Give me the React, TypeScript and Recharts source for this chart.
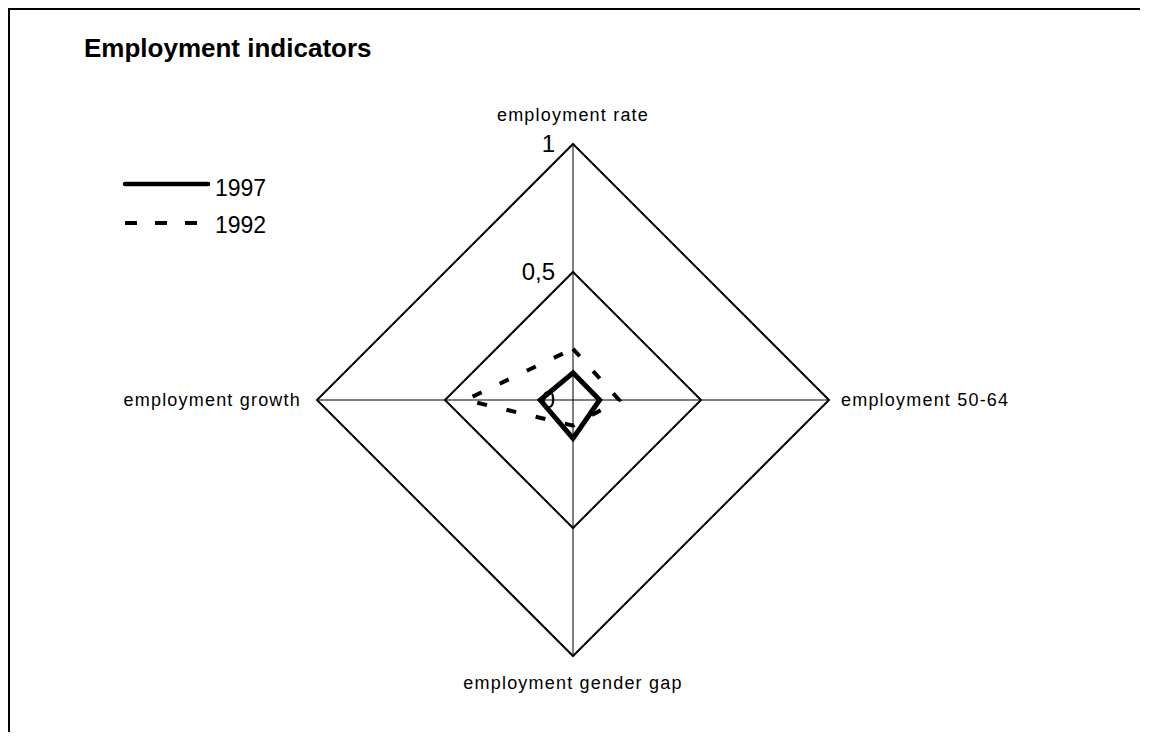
import { RadarChart, Radar, PolarGrid, PolarAngleAxis, PolarRadiusAxis, Legend } from "recharts"

const indicators = ["employment rate", "employment 50-64", "employment gender gap", "employment growth"]
const values1997 = [0.106, 0.104, 0.15, 0.128]
const values1992 = [0.2, 0.18, 0.1, 0.42]
const radiusTicks = [0, 0.5, 1]

const data = indicators.map((name, i) => ({
  indicator: name,
  y1997: values1997[i],
  y1992: values1992[i],
}))

const FONT = "'Liberation Sans', Arial, Helvetica, sans-serif"

// label offsets per axis (top, right, bottom, left)
const LABEL_OFFSETS: Array<[number, number]> = [
  [0, -15],
  [4, 6],
  [0, 25],
  [-8, 6],
]

function AngleTick(props: any) {
  const { x, y, payload, textAnchor, index } = props
  const [dx, dy] = LABEL_OFFSETS[index] ?? [0, 0]
  return (
    <text
      x={x + dx}
      y={y + dy}
      textAnchor={textAnchor}
      fontFamily={FONT}
      fontSize={18}
      letterSpacing={1.2}
      fill="#000"
    >
      {payload.value}
    </text>
  )
}

function RadiusTick(props: any) {
  const { x, y, payload } = props
  return (
    <text x={x - 18} y={y + 8} textAnchor="end" fontFamily={FONT} fontSize={24} fill="#000">
      {String(payload.value).replace(".", ",")}
    </text>
  )
}

function LegendBox() {
  return (
    <svg width={200} height={72} style={{ overflow: "visible" }}>
      <line x1={5} y1={14} x2={88} y2={14} stroke="#000" strokeWidth={4.5} strokeLinecap="round" />
      <text x={95} y={26} fontFamily={FONT} fontSize={23} fill="#000">1997</text>
      <line x1={5} y1={53} x2={77} y2={53} stroke="#000" strokeWidth={4} strokeDasharray="12 18" />
      <text x={95} y={63} fontFamily={FONT} fontSize={23} fill="#000">1992</text>
    </svg>
  )
}

export default function App() {
  return (
    <div style={{ position: "relative", width: 1132, height: 724, background: "#fff", overflow: "hidden" }}>
      <div style={{ position: "absolute", left: 0, top: 0, width: 1132, height: 2, background: "#000" }} />
      <div style={{ position: "absolute", left: 0, top: 0, width: 2, height: 724, background: "#000" }} />
      <div
        style={{
          position: "absolute",
          left: 76,
          top: 27,
          fontFamily: FONT,
          fontWeight: "bold",
          fontSize: 26,
          lineHeight: "26px",
          color: "#000",
          whiteSpace: "nowrap",
        }}
      >
        Employment indicators
      </div>
      <div style={{ position: "absolute", left: 0, top: 0 }}>
        <RadarChart width={1132} height={724} data={data} cx={565} cy={392} outerRadius={256}>
          <PolarGrid gridType="polygon" stroke="#000" strokeWidth={1} />
          <PolarGrid gridType="polygon" radialLines={false} stroke="#000" strokeWidth={2} />
          <PolarAngleAxis dataKey="indicator" tick={AngleTick} tickLine={false} axisLine={false} />
          <PolarRadiusAxis
            angle={90}
            domain={[0, 1]}
            ticks={radiusTicks as any}
            tickCount={3}
            axisLine={false}
            tick={RadiusTick}
          />
          <Radar
            name="1992"
            dataKey="y1992"
            stroke="#000"
            strokeWidth={4}
            strokeDasharray="10 20"
            fill="none"
            fillOpacity={0}
            isAnimationActive={false}
          />
          <Radar
            name="1997"
            dataKey="y1997"
            stroke="#000"
            strokeWidth={5}
            strokeLinejoin="miter"
            fill="none"
            fillOpacity={0}
            isAnimationActive={false}
          />
          <Legend
            content={() => <LegendBox />}
            wrapperStyle={{ position: "absolute", left: 112, top: 162, width: 200, height: 72 }}
          />
        </RadarChart>
      </div>
    </div>
  )
}
